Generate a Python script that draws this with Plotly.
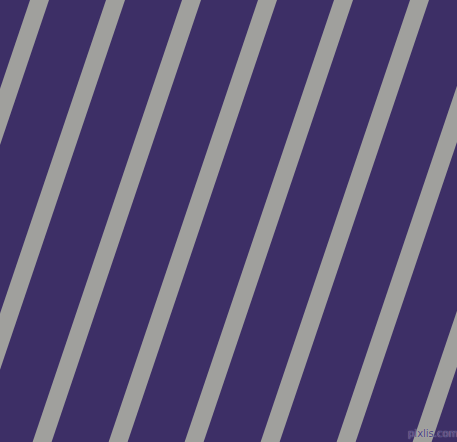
import plotly.graph_objects as go

# stripe pattern: left edge of every grey band where it meets the top edge (px)
stripe_top_x = [-122, -46, 30, 106, 182, 258, 334, 410, 486, 562]
stripe_width = 19          # horizontal width of a band
stripe_slope = 0.338       # horizontal shift per pixel going down
img_w, img_h = 457, 442

bg_color = "#3D2F66"
stripe_color = "#A0A09D"

fig = go.Figure()

for x0 in stripe_top_x:
    # band corners: top-left, top-right, bottom-right, bottom-left
    bx = x0 - stripe_slope * img_h
    xs = [x0, x0 + stripe_width, bx + stripe_width, bx, x0]
    ys = [0, 0, img_h, img_h, 0]
    fig.add_scatter(x=xs, y=ys, fill="toself", fillcolor=stripe_color,
                    mode="lines", line=dict(width=0), hoverinfo="skip",
                    showlegend=False)

fig.add_annotation(x=433, y=433, text="pixlis.com", showarrow=False,
                   font=dict(family="DejaVu Sans", size=10, color="#4B3E7C",
                             shadow="0px 0px 1px #D0D0D0"))

fig.update_layout(
    width=img_w, height=img_h,
    margin=dict(l=0, r=0, t=0, b=0),
    paper_bgcolor=bg_color, plot_bgcolor=bg_color,
    xaxis=dict(range=[0, img_w], visible=False, fixedrange=True),
    yaxis=dict(range=[img_h, 0], visible=False, fixedrange=True),
)

# drop the default page margin so the figure fills the window
fig.write_html("out.html", config={"displayModeBar": False},
               post_script="document.body.style.margin='0';"
                           "document.body.style.overflow='hidden';")
